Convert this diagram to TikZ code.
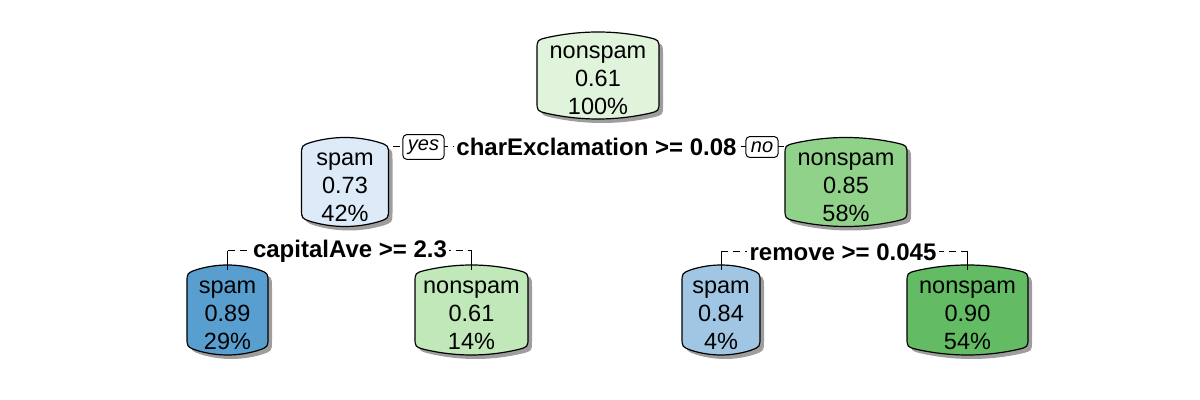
\documentclass[tikz,border=0pt]{standalone}
\usepackage{fontspec}
\setmainfont{Liberation Sans}
\definecolor{gA}{RGB}{224,243,219}
\definecolor{gB}{RGB}{145,210,138}
\definecolor{gC}{RGB}{192,232,184}
\definecolor{gD}{RGB}{99,188,99}
\definecolor{bA}{RGB}{221,234,247}
\definecolor{bB}{RGB}{88,159,207}
\definecolor{bC}{RGB}{160,198,228}
\newcommand{\rpBulge}{8}
\newcommand{\rpCorner}{10}
\newcommand{\rpbox}[7]{% name cx cy w h fill text
  \pgfmathsetmacro\rpW{#4}\pgfmathsetmacro\rpH{#5}%
  \pgfmathsetmacro\rpA{#4-\rpCorner}%
  \pgfmathsetmacro\rpK{\rpBulge*(\rpA/\rpW)^2}%
  \pgfmathsetmacro\rpAt{\rpA/3}%
  \pgfmathsetmacro\rpKt{\rpK/3}%
  \fill[shadowc,shift={(#2+4,#3+4)}]
  (-\rpW,-\rpH+\rpBulge+\rpCorner) .. controls (-\rpW,-\rpH+\rpBulge) .. (-\rpA,-\rpH+\rpK)
  .. controls (-\rpAt,-\rpH-\rpKt) and (\rpAt,-\rpH-\rpKt) .. (\rpA,-\rpH+\rpK)
  .. controls (\rpW,-\rpH+\rpBulge) .. (\rpW,-\rpH+\rpBulge+\rpCorner)
  -- (\rpW,\rpH-\rpBulge-\rpCorner)
  .. controls (\rpW,\rpH-\rpBulge) .. (\rpA,\rpH-\rpK)
  .. controls (\rpAt,\rpH+\rpKt) and (-\rpAt,\rpH+\rpKt) .. (-\rpA,\rpH-\rpK)
  .. controls (-\rpW,\rpH-\rpBulge) .. (-\rpW,\rpH-\rpBulge-\rpCorner) -- cycle;
  \filldraw[boxline,fill=#6,shift={(#2,#3)}]
  (-\rpW,-\rpH+\rpBulge+\rpCorner) .. controls (-\rpW,-\rpH+\rpBulge) .. (-\rpA,-\rpH+\rpK)
  .. controls (-\rpAt,-\rpH-\rpKt) and (\rpAt,-\rpH-\rpKt) .. (\rpA,-\rpH+\rpK)
  .. controls (\rpW,-\rpH+\rpBulge) .. (\rpW,-\rpH+\rpBulge+\rpCorner)
  -- (\rpW,\rpH-\rpBulge-\rpCorner)
  .. controls (\rpW,\rpH-\rpBulge) .. (\rpA,\rpH-\rpK)
  .. controls (\rpAt,\rpH+\rpKt) and (-\rpAt,\rpH+\rpKt) .. (-\rpA,\rpH-\rpK)
  .. controls (-\rpW,\rpH-\rpBulge) .. (-\rpW,\rpH-\rpBulge-\rpCorner) -- cycle;
  \node[leaftxt,minimum width=#4 pt,minimum height=#5 pt] (#1) at (#2,#3) {#7};}
\tikzset{
  shadowc/.style={fill=black!38},
  boxline/.style={draw=black,line width=0.6pt},
  leaftxt/.style={inner sep=0pt,align=center,font=\fontsize{11.75}{14}\selectfont,yshift=-2.5pt},
  splitlbl/.style={fill=white,inner sep=1.2pt,font=\fontsize{12}{14}\selectfont\bfseries},
  yn/.style={draw=black,fill=white,rounded corners=2pt,line width=0.5pt,inner xsep=2.5pt,inner ysep=2.5pt,font=\fontsize{10}{11}\selectfont\itshape},
  brh/.style={line width=0.5pt,dash pattern=on 3.5pt off 2.5pt},
  brv/.style={line width=0.5pt}
}
\begin{document}
\begin{tikzpicture}[x=0.5pt,y=-0.5pt]
\useasboundingbox (0,0) rectangle (1200,400);
\node[splitlbl] (s1) at (596.5,147) {charExclamation >= 0.08};
\node[splitlbl] (s2) at (350,251) {capitalAve >= 2.3};
\node[splitlbl] (s3) at (843,252) {remove >= 0.045};
\coordinate (l1c) at (345,182);
\coordinate (r1c) at (846,182);
\draw[brh] (l1c |- s1) -- (r1c |- s1);
\coordinate (llc) at (227.5,310);
\coordinate (lrc) at (471.5,310);
\coordinate (rlc) at (721,310);
\coordinate (rrc) at (967.5,310);
\draw[brh] (llc |- s2) -- (lrc |- s2);
\draw[brh] (rlc |- s3) -- (rrc |- s3);
\rpbox{root}{598}{75.5}{61}{43.5}{gA}{nonspam\\0.61\\100\%}
\rpbox{l1}{345}{182}{43.5}{44.5}{bA}{spam\\0.73\\42\%}
\rpbox{r1}{846}{182}{61}{44.5}{gB}{nonspam\\0.85\\58\%}
\rpbox{ll}{227.5}{310}{40.5}{45}{bB}{spam\\0.89\\29\%}
\rpbox{lr}{471.5}{310}{56.5}{45}{gC}{nonspam\\0.61\\14\%}
\rpbox{rl}{721}{310}{39}{45}{bC}{spam\\0.84\\4\%}
\rpbox{rr}{967.5}{310}{60.5}{45}{gD}{nonspam\\0.90\\54\%}
\draw[brv] (llc |- s2) -- (ll.north);
\draw[brv] (lrc |- s2) -- (lr.north);
\draw[brv] (rlc |- s3) -- (rl.north);
\draw[brv] (rrc |- s3) -- (rr.north);
\node[splitlbl] at (s1) {charExclamation >= 0.08};
\node[splitlbl] at (s2) {capitalAve >= 2.3};
\node[splitlbl] at (s3) {remove >= 0.045};
\node[yn] (yes) at (423.5,147) {yes};
\node[yn] (no) at (762,147) {no};
\end{tikzpicture}
\end{document}
